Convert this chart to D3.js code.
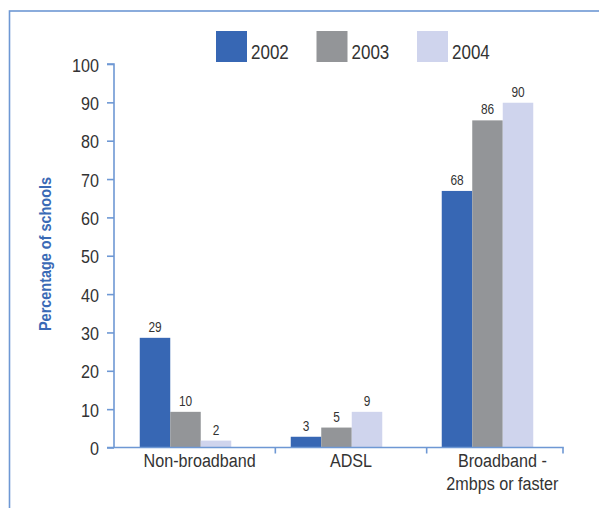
<!DOCTYPE html>
<html><head><meta charset="utf-8">
<script src="https://cdn.jsdelivr.net/npm/d3@7"></script>
<style>
html,body{margin:0;padding:0;background:#fff;}
svg{display:block;}
</style></head>
<body>
<svg id="chart" width="599" height="508"></svg>
<script>
// ---- data ----
const categories = ["Non-broadband", "ADSL", "Broadband - 2mbps or faster"];
const categoryLines = [["Non-broadband"], ["ADSL"], ["Broadband -", "2mbps or faster"]];
const seriesNames = ["2002", "2003", "2004"];
const values2002 = [28.6, 2.8, 66.9];
const values2003 = [9.3, 5.2, 85.3];
const values2004 = [1.8, 9.3, 89.9];
const labels2002 = ["29", "3", "68"];
const labels2003 = ["10", "5", "86"];
const labels2004 = ["2", "9", "90"];
const yTicks = [0, 10, 20, 30, 40, 50, 60, 70, 80, 90, 100];
const yTitle = "Percentage of schools";

const seriesValues = [values2002, values2003, values2004];
const seriesLabels = [labels2002, labels2003, labels2004];
const colors = ["#3767b4", "#939598", "#cfd4ed"];
const axisColor = "#6e98d4";
const textColor = "#333333";
const font = "'Liberation Sans', Arial, sans-serif";
const SX = 0.85; // horizontal condensing

const svg = d3.select("#chart");

function txt(parent, x, y, str, size, anchor, extra) {
  return parent.append("text")
    .attr("transform", `translate(${x},${y})${extra || ""} scale(${SX},1)`)
    .attr("text-anchor", anchor || "start")
    .attr("font-family", font).attr("font-size", size).attr("fill", textColor)
    .text(str);
}

// frame (top + left edges visible)
svg.append("rect").attr("x", 9.5).attr("y", 11).attr("width", 800).attr("height", 800)
  .attr("fill", "none").attr("stroke", axisColor).attr("stroke-width", 1.6);

const y = d3.scaleLinear().domain([0, 100]).range([447.5, 64]);
const xBars = d3.scaleBand().domain(categories).range([110, 563]).paddingInner(0.394).paddingOuter(0.197);
const xSeries = d3.scaleBand().domain(seriesNames).range([0, xBars.bandwidth()]);
const xLabels = d3.scaleBand().domain(categories).range([124, 578]);

// bars
seriesNames.forEach((s, si) => {
  const g = svg.append("g");
  g.selectAll("rect").data(categories).join("rect")
    .attr("x", c => xBars(c) + xSeries(s))
    .attr("y", (c, i) => y(seriesValues[si][i]))
    .attr("width", xSeries.bandwidth())
    .attr("height", (c, i) => y(0) - y(seriesValues[si][i]))
    .attr("fill", colors[si]);
  categories.forEach((c, i) => {
    txt(g, xBars(c) + xSeries(s) + xSeries.bandwidth() / 2, y(seriesValues[si][i]) - 6,
      seriesLabels[si][i], 14, "middle");
  });
});

// y axis
const yAxis = d3.axisLeft(y).tickValues(yTicks).tickSize(7).tickPadding(8);
const yg = svg.append("g").attr("transform", "translate(114,0)").call(yAxis);
yg.select(".domain").attr("stroke", axisColor).attr("stroke-width", 1.6).attr("d", `M-7,${y(100)}H0V${y(0)}`);
yg.selectAll(".tick line").attr("stroke", axisColor).attr("stroke-width", 1.6);
yg.selectAll(".tick text")
  .attr("x", 0).attr("dy", null)
  .attr("transform", `translate(-15,7) scale(${SX},1)`)
  .attr("font-family", font).attr("font-size", 19).attr("fill", textColor);

// x axis
const xEnd = xBars.range()[1];
svg.append("line").attr("x1", 107).attr("x2", xEnd + 0.8).attr("y1", y(0)).attr("y2", y(0))
  .attr("stroke", axisColor).attr("stroke-width", 1.6);
const xTickPos = [xLabels(categories[1]), xLabels(categories[2]), xEnd];
svg.selectAll(".xtick").data(xTickPos).join("line").attr("class", "xtick")
  .attr("x1", d => d).attr("x2", d => d).attr("y1", y(0)).attr("y2", y(0) + 6)
  .attr("stroke", axisColor).attr("stroke-width", 1.6);
categories.forEach((c, i) => {
  categoryLines[i].forEach((line, li) => {
    txt(svg, xLabels(c) + xLabels.bandwidth() / 2, 467 + li * 23, line, 19, "middle");
  });
});

// y title
txt(svg, 51, 254, yTitle, 17, "middle", " rotate(-90)")
  .attr("font-weight", "bold").attr("fill", "#3a6ab6");

// legend
const legendX = d3.scalePoint().domain(seriesNames).range([216, 417]);
const lg = svg.append("g");
seriesNames.forEach((s, si) => {
  lg.append("rect").attr("x", legendX(s)).attr("y", 31).attr("width", 31).attr("height", 31).attr("fill", colors[si]);
  txt(lg, legendX(s) + 35, 58.5, s, 20, "start");
});
</script>
</body></html>
